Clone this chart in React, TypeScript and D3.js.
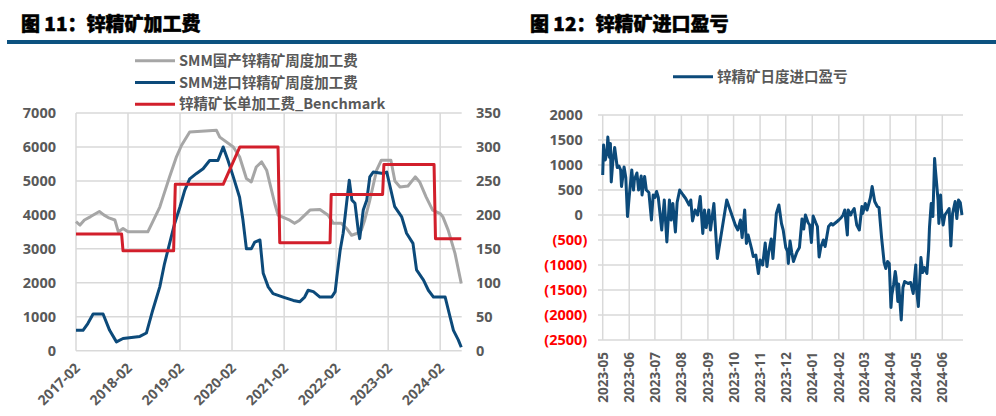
import React from "react";
import * as d3 from "d3";

// ---------------- Left chart data ----------------
const feeLeftTicks = [0, 1000, 2000, 3000, 4000, 5000, 6000, 7000];
const feeRightTicks = [0, 50, 100, 150, 200, 250, 300, 350];
const feeXTicks = ["2017-02", "2018-02", "2019-02", "2020-02", "2021-02", "2022-02", "2023-02", "2024-02"];

const domesticDates = [
  "2017-02-01", "2017-03-01", "2017-04-01", "2017-05-15", "2017-07-15", "2017-08-15", "2017-09-15", "2017-11-01",
  "2017-11-25", "2017-12-28", "2018-02-01", "2018-06-20", "2018-07-25", "2018-09-12", "2018-10-05", "2018-11-20",
  "2019-01-07", "2019-02-12", "2019-04-10", "2019-10-15", "2019-11-07", "2020-02-10", "2020-03-25", "2020-05-12",
  "2020-06-15", "2020-07-20", "2020-08-27", "2020-10-01", "2020-11-27", "2020-12-20", "2021-03-12", "2021-04-15",
  "2021-05-20", "2021-08-01", "2021-10-10", "2021-12-07", "2022-01-12", "2022-03-10", "2022-04-15", "2022-05-20",
  "2022-06-25", "2022-07-28", "2022-08-20", "2022-09-25", "2022-11-12", "2022-12-15", "2023-02-20", "2023-03-20",
  "2023-04-25", "2023-06-20", "2023-08-10", "2023-09-10", "2023-10-25", "2023-12-10", "2024-02-01", "2024-02-20",
  "2024-03-28", "2024-05-15", "2024-06-28",
];
const domesticValues = [
  3800, 3700, 3850, 3950, 4100, 4000, 3920, 3850,
  3500, 3600, 3500, 3500, 3800, 4230, 4530, 5120,
  5710, 6050, 6440, 6490, 6290, 6000, 5710, 5070,
  4970, 5410, 5560, 5315, 4335, 3990, 3844, 3750,
  3844, 4140, 4160, 3990, 3750, 3750, 3600, 3400,
  3450, 3550, 3844, 4430, 5315, 5610, 5610, 5000,
  4820, 4850, 5120, 4970, 4530, 4140, 4040, 3940,
  3550, 2865, 1980,
];

const importDates = [
  "2017-02-01", "2017-03-22", "2017-04-25", "2017-06-01", "2017-08-10", "2017-09-25", "2017-11-12", "2017-12-28",
  "2018-04-25", "2018-06-10", "2018-07-25", "2018-09-12", "2018-10-15", "2018-11-20", "2018-12-25", "2019-02-01",
  "2019-03-06", "2019-04-10", "2019-05-28", "2019-07-13", "2019-08-28", "2019-10-25", "2019-12-01", "2020-01-04",
  "2020-02-10", "2020-03-25", "2020-04-18", "2020-05-12", "2020-06-15", "2020-07-10", "2020-08-15", "2020-09-07",
  "2020-10-12", "2020-11-15", "2021-01-25", "2021-04-06", "2021-05-21", "2021-06-25", "2021-07-19", "2021-08-25",
  "2021-10-10", "2022-01-01", "2022-01-25", "2022-02-06", "2022-03-01", "2022-03-22", "2022-04-15", "2022-05-04",
  "2022-05-22", "2022-06-13", "2022-07-06", "2022-07-16", "2022-08-10", "2022-09-04", "2022-09-25", "2022-10-19",
  "2022-12-28", "2023-01-22", "2023-02-15", "2023-03-19", "2023-05-07", "2023-06-10", "2023-07-25", "2023-08-19",
  "2023-10-07", "2023-11-10", "2023-12-16", "2024-03-07", "2024-04-10", "2024-05-04", "2024-06-07", "2024-06-28",
];
const importValues = [
  30, 30, 40, 54, 54, 30, 13, 18,
  21, 26, 60, 94, 128, 158, 187, 212,
  236, 253, 261, 268, 280, 280, 300, 280,
  256, 226, 192, 150, 150, 160, 163, 114,
  94, 84, 79, 74, 72, 79, 89, 87,
  79, 79, 87, 109, 148, 173, 217, 251,
  222, 217, 177, 165, 207, 222, 256, 263,
  261, 263, 241, 212, 197, 173, 158, 119,
  104, 89, 79, 79, 50, 30, 16, 5,
];

const benchDates = [
  "2017-02-01", "2017-12-18", "2017-12-28", "2018-12-18", "2018-12-30", "2019-12-01", "2020-03-27", "2020-12-20",
  "2021-01-01", "2021-12-20", "2021-12-28", "2022-12-24", "2023-01-02", "2023-12-20", "2023-12-30", "2024-06-28",
];
const benchValues = [172, 172, 147, 147, 245, 245, 300, 300, 159, 159, 230, 230, 274, 274, 165, 165];

const feeLegend = ["SMM国产锌精矿周度加工费", "SMM进口锌精矿周度加工费", "锌精矿长单加工费_Benchmark"];

// ---------------- Right chart data ----------------
const profitTicks = [2000, 1500, 1000, 500, 0, -500, -1000, -1500, -2000, -2500];
const profitXTicks = [
  "2023-05", "2023-06", "2023-07", "2023-08", "2023-09", "2023-10", "2023-11",
  "2023-12", "2024-01", "2024-02", "2024-03", "2024-04", "2024-05", "2024-06",
];
const profitDates = [
  "2023-05-01", "2023-05-02", "2023-05-04", "2023-05-06", "2023-05-07", "2023-05-09", "2023-05-10", "2023-05-11",
  "2023-05-13", "2023-05-15", "2023-05-18", "2023-05-20", "2023-05-22", "2023-05-23", "2023-05-26", "2023-05-28",
  "2023-05-30", "2023-06-01", "2023-06-04", "2023-06-06", "2023-06-07", "2023-06-10", "2023-06-12", "2023-06-15",
  "2023-06-16", "2023-06-19", "2023-06-21", "2023-06-24", "2023-06-27", "2023-06-29", "2023-07-01", "2023-07-03",
  "2023-07-05", "2023-07-09", "2023-07-12", "2023-07-15", "2023-07-18", "2023-07-20", "2023-07-22", "2023-07-25",
  "2023-07-27", "2023-07-30", "2023-08-03", "2023-08-06", "2023-08-10", "2023-08-12", "2023-08-14", "2023-08-17",
  "2023-08-20", "2023-08-23", "2023-08-26", "2023-08-28", "2023-08-30", "2023-09-02", "2023-09-04", "2023-09-08",
  "2023-09-12", "2023-09-23", "2023-09-29", "2023-10-03", "2023-10-06", "2023-10-09", "2023-10-11", "2023-10-14",
  "2023-10-16", "2023-10-18", "2023-10-22", "2023-10-24", "2023-10-27", "2023-10-30", "2023-11-01", "2023-11-04",
  "2023-11-07", "2023-11-09", "2023-11-11", "2023-11-14", "2023-11-16", "2023-11-18", "2023-11-20", "2023-11-23",
  "2023-11-26", "2023-11-28", "2023-12-01", "2023-12-03", "2023-12-04", "2023-12-06", "2023-12-08", "2023-12-10",
  "2023-12-14", "2023-12-17", "2023-12-20", "2023-12-22", "2023-12-24", "2023-12-27", "2023-12-29", "2023-12-31",
  "2024-01-02", "2024-01-05", "2024-01-07", "2024-01-09", "2024-01-11", "2024-01-14", "2024-01-16", "2024-01-20",
  "2024-01-23", "2024-01-25", "2024-01-30", "2024-02-01", "2024-02-04", "2024-02-06", "2024-02-08", "2024-02-11",
  "2024-02-12", "2024-02-15", "2024-02-16", "2024-02-19", "2024-02-22", "2024-02-25", "2024-02-28", "2024-02-29",
  "2024-03-03", "2024-03-05", "2024-03-07", "2024-03-09", "2024-03-11", "2024-03-14", "2024-03-17", "2024-03-19",
  "2024-03-22", "2024-03-25", "2024-03-27", "2024-03-29", "2024-03-31", "2024-04-02", "2024-04-03", "2024-04-05",
  "2024-04-07", "2024-04-08", "2024-04-10", "2024-04-11", "2024-04-14", "2024-04-16", "2024-04-18", "2024-04-22",
  "2024-04-25", "2024-04-28", "2024-05-01", "2024-05-02", "2024-05-04", "2024-05-07", "2024-05-09", "2024-05-11",
  "2024-05-14", "2024-05-16", "2024-05-17", "2024-05-19", "2024-05-21", "2024-05-23", "2024-05-24", "2024-05-25",
  "2024-05-27", "2024-05-28", "2024-05-30", "2024-05-31", "2024-06-02", "2024-06-04", "2024-06-06", "2024-06-09",
  "2024-06-11", "2024-06-13", "2024-06-16", "2024-06-18", "2024-06-20", "2024-06-22", "2024-06-24",
];
const profitValues = [
  800, 1400, 1100, 1250, 1560, 1150, 1430, 660,
  1100, 1350, 950, 980, 900, 570, 960, 750,
  -30, 370, 900, 500, 700, 840, 500, 780,
  400, 770, 500, 450, -100, 400, 350, 470,
  350, -300, 300, -540, 300, -100, 230, -340,
  250, 500, 400, 330, 200, 300, -120, 100,
  0, 370, -370, 100, -250, 100, -300, 230,
  -870, 300, 0, -200, -300, -100, -450, 100,
  -570, -400, -670, -830, -800, -1170, -900, -1000,
  -560, -1030, -750, -480, -870, -430, 30, 200,
  -170, -300, -650, -720, -970, -520, -750, -930,
  -740, -650, -80, -280, 0, -150, -200, -550,
  -20, -150, -230, -840, -640, -500, -630, -230,
  -170, -200, -130, -100, -50, 0, 100, -400,
  100, 0, 50, 130, -200, -300, 170, 30,
  230, 100, 220, 350, 570, 270, 170, 150,
  -450, -950, -1070, -930, -970, -1850, -1600, -1400,
  -1130, -1250, -1730, -1380, -2100, -1450, -1330, -1370,
  -1350, -1570, -1000, -1500, -1830, -850, -1150, -1050,
  -1170, -700, -250, 230, -30, 1130, 900, 700,
  300, -170, 400, 100, -200, 0, 50, 130,
  -620, 30, 270, -70, 300, 250, 0,
];
const profitLegend = "锌精矿日度进口盈亏";

// ---------------- Styles ----------------
const FONT = "'Open Sans', 'Noto Sans CJK SC', sans-serif";
const CJK = "'Noto Sans CJK SC', 'Open Sans', sans-serif";
const TEXT = "#595959";
const GRID = "#d9d9d9";
const BLUE = "#0c4a7a";
const GRAY = "#a6a6a6";
const RED = "#d21f2b";
const RULE = "#0d5280";

const parseD = d3.timeParse("%Y-%m-%d");
const parseM = d3.timeParse("%Y-%m");

type Pt = { d: Date; v: number };
const zip = (ds: string[], vs: number[]): Pt[] => ds.map((s, i) => ({ d: parseD(s) as Date, v: vs[i] }));

export default function App() {
  // Left chart scales
  const xL = d3.scaleTime().domain([parseD("2017-02-01") as Date, parseD("2024-07-01") as Date]).range([76, 461.7]);
  const yL = d3.scaleLinear().domain([0, 7000]).range([350.7, 113]);
  const yR = d3.scaleLinear().domain([0, 350]).range([350.7, 113]);
  const lineL = d3.line<Pt>().x((p) => xL(p.d)).y((p) => yL(p.v));
  const lineR = d3.line<Pt>().x((p) => xL(p.d)).y((p) => yR(p.v));

  const domestic = zip(domesticDates, domesticValues);
  const imported = zip(importDates, importValues);
  const bench = zip(benchDates, benchValues);

  // Right chart scales
  const x2 = d3.scaleTime().domain([parseD("2023-05-01") as Date, parseD("2024-06-01") as Date]).range([602.7, 942.3]);
  const y2 = d3.scaleLinear().domain([-2500, 2000]).range([340, 115]);
  const line2 = d3.line<Pt>().x((p) => x2(p.d)).y((p) => y2(p.v));
  const profit = zip(profitDates, profitValues);
  const p2Left = 598;
  const p2Right = 963;

  const legendColors = [GRAY, BLUE, RED];

  return (
    <svg width={996} height={416} style={{ position: "absolute", left: 0, top: 0, background: "#fff" }}>
      <rect x={0} y={0} width={996} height={416} fill="#fff" />
      {/* Titles */}
      <text x={21} y={31} fontFamily={CJK} fontWeight={900} fontSize={19} fill="#000" stroke="#000" strokeWidth={0.5}>图 11：锌精矿加工费</text>
      <text x={530} y={31} fontFamily={CJK} fontWeight={900} fontSize={19} fill="#000" stroke="#000" strokeWidth={0.5}>图 12：锌精矿进口盈亏</text>
      <rect x={7} y={40} width={989} height={4} fill={RULE} />

      {/* ---------- Left chart ---------- */}
      <g>
        {feeLeftTicks.map((t) => (
          <line key={"lh" + t} x1={76} x2={461.7} y1={yL(t)} y2={yL(t)} stroke={GRID} strokeWidth={1.5} />
        ))}
        {feeXTicks.map((t) => {
          const x = xL(parseM(t) as Date);
          return <line key={"lv" + t} x1={x} x2={x} y1={113} y2={350.7} stroke={GRID} strokeWidth={1.5} />;
        })}
        {feeLeftTicks.map((t) => (
          <text key={"lt" + t} x={56} y={yL(t)} dy="0.35em" textAnchor="end" fontFamily={FONT} fontWeight={700}
            fontSize={14.5} fill={TEXT}>{t}</text>
        ))}
        {feeRightTicks.map((t) => (
          <text key={"rt" + t} x={476} y={yR(t)} dy="0.35em" textAnchor="start" fontFamily={FONT} fontWeight={700}
            fontSize={14.5} fill={TEXT}>{t}</text>
        ))}
        {feeXTicks.map((t) => {
          const x = xL(parseM(t) as Date);
          return (
            <text key={"xt" + t} transform={`translate(${x + 5},${369}) rotate(-45)`} textAnchor="end"
              fontFamily={FONT} fontWeight={700} fontSize={14} fill={TEXT}>{t}</text>
          );
        })}
        <path d={lineL(domestic) || ""} fill="none" stroke={GRAY} strokeWidth={3} strokeLinejoin="round" />
        <path d={lineR(imported) || ""} fill="none" stroke={BLUE} strokeWidth={3} strokeLinejoin="round" />
        <path d={lineR(bench) || ""} fill="none" stroke={RED} strokeWidth={3} strokeLinejoin="round" />

        {feeLegend.map((s, i) => {
          const y = 60.7 + i * 21.8;
          return (
            <g key={"lg" + i}>
              <line x1={135} x2={175} y1={y} y2={y} stroke={legendColors[i]} strokeWidth={3} />
              <text x={179} y={y} dy="0.35em" fontFamily={CJK} fontWeight={700} fontSize={14.5} fill={TEXT}>{s}</text>
            </g>
          );
        })}
      </g>

      {/* ---------- Right chart ---------- */}
      <g>
        {profitTicks.map((t) => (
          <line key={"ph" + t} x1={p2Left} x2={p2Right} y1={y2(t)} y2={y2(t)} stroke={GRID} strokeWidth={1.5} />
        ))}
        {profitXTicks.map((t) => {
          const x = x2(parseM(t) as Date);
          return <line key={"pv" + t} x1={x} x2={x} y1={115} y2={340} stroke={GRID} strokeWidth={1.5} />;
        })}
        {profitTicks.map((t) => (
          <text key={"pt" + t} x={t < 0 ? 587.3 : 582.7} y={y2(t)} dy="0.35em" textAnchor="end" fontFamily={FONT}
            fontWeight={700} fontSize={14.5} fill={t < 0 ? "#ff0000" : TEXT}>
            {t < 0 ? `(${-t})` : `${t}`}
          </text>
        ))}
        {profitXTicks.map((t) => {
          const x = x2(parseM(t) as Date);
          return (
            <text key={"px" + t} transform={`translate(${x + 5},${352}) rotate(-90)`} textAnchor="end"
              fontFamily={FONT} fontWeight={700} fontSize={13.5} fill={TEXT}>{t}</text>
          );
        })}
        <path d={line2(profit) || ""} fill="none" stroke={BLUE} strokeWidth={3} strokeLinejoin="round" />

        <line x1={673} x2={713} y1={76.7} y2={76.7} stroke={BLUE} strokeWidth={3} />
        <text x={717} y={76.7} dy="0.35em" fontFamily={CJK} fontWeight={700} fontSize={14.5} fill={TEXT}>{profitLegend}</text>
      </g>
    </svg>
  );
}
